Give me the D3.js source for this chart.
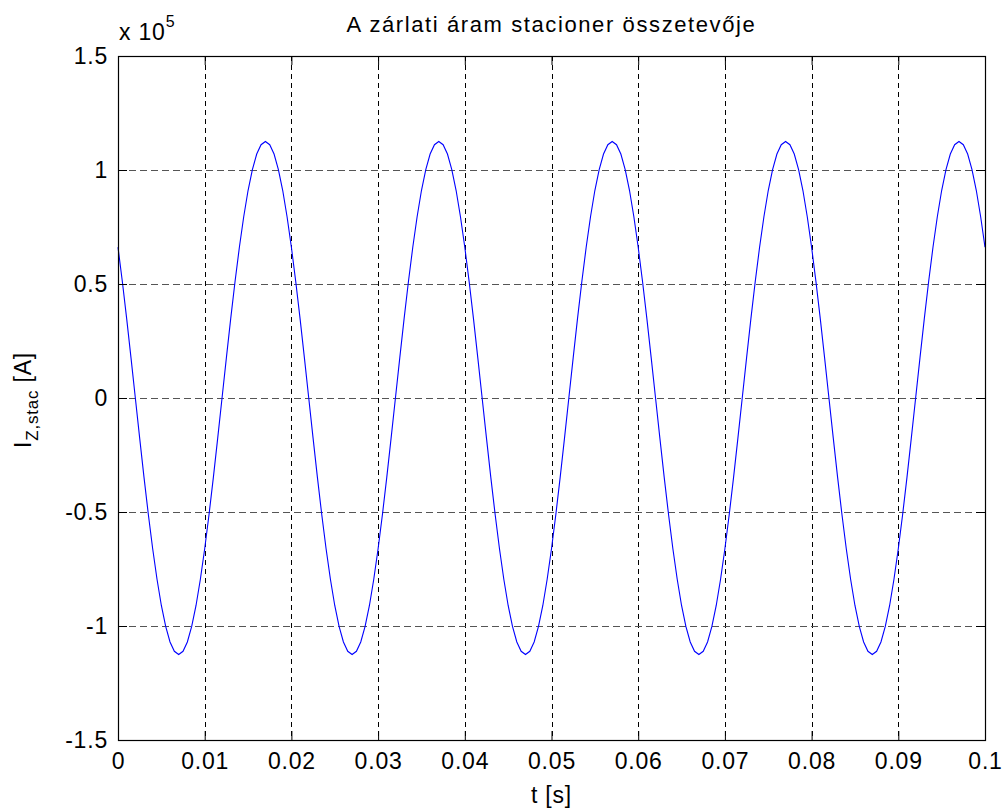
<!DOCTYPE html>
<html>
<head>
<meta charset="utf-8">
<script src="https://d3js.org/d3.v7.min.js"></script>
<style>
  body { margin: 0; background: #fff; }
  text { font-family: "Liberation Sans", Arial, Helvetica, sans-serif; fill: #000; }
</style>
</head>
<body>
<svg id="chart" width="1008" height="812"></svg>
<script>
// sample spacing of the trace, seconds
var sampleStep = 0.0005;

// I_Z,stac values, in units of 1e5 A
var current = [
  0.661, 0.511, 0.348, 0.176, 0, -0.176, -0.348, -0.511, -0.661, -0.795,
  -0.910, -1.002, -1.070, -1.111, -1.125, -1.111, -1.070, -1.002, -0.910, -0.795,
  -0.661, -0.511, -0.348, -0.176, 0, 0.176, 0.348, 0.511, 0.661, 0.795,
  0.910, 1.002, 1.070, 1.111, 1.125, 1.111, 1.070, 1.002, 0.910, 0.795,
  0.661, 0.511, 0.348, 0.176, 0, -0.176, -0.348, -0.511, -0.661, -0.795,
  -0.910, -1.002, -1.070, -1.111, -1.125, -1.111, -1.070, -1.002, -0.910, -0.795,
  -0.661, -0.511, -0.348, -0.176, 0, 0.176, 0.348, 0.511, 0.661, 0.795,
  0.910, 1.002, 1.070, 1.111, 1.125, 1.111, 1.070, 1.002, 0.910, 0.795,
  0.661, 0.511, 0.348, 0.176, 0, -0.176, -0.348, -0.511, -0.661, -0.795,
  -0.910, -1.002, -1.070, -1.111, -1.125, -1.111, -1.070, -1.002, -0.910, -0.795,
  -0.661, -0.511, -0.348, -0.176, 0, 0.176, 0.348, 0.511, 0.661, 0.795,
  0.910, 1.002, 1.070, 1.111, 1.125, 1.111, 1.070, 1.002, 0.910, 0.795,
  0.661, 0.511, 0.348, 0.176, 0, -0.176, -0.348, -0.511, -0.661, -0.795,
  -0.910, -1.002, -1.070, -1.111, -1.125, -1.111, -1.070, -1.002, -0.910, -0.795,
  -0.661, -0.511, -0.348, -0.176, 0, 0.176, 0.348, 0.511, 0.661, 0.795,
  0.910, 1.002, 1.070, 1.111, 1.125, 1.111, 1.070, 1.002, 0.910, 0.795,
  0.661, 0.511, 0.348, 0.176, 0, -0.176, -0.348, -0.511, -0.661, -0.795,
  -0.910, -1.002, -1.070, -1.111, -1.125, -1.111, -1.070, -1.002, -0.910, -0.795,
  -0.661, -0.511, -0.348, -0.176, 0, 0.176, 0.348, 0.511, 0.661, 0.795,
  0.910, 1.002, 1.070, 1.111, 1.125, 1.111, 1.070, 1.002, 0.910, 0.795,
  0.661
];

var xTicks = [0, 0.01, 0.02, 0.03, 0.04, 0.05, 0.06, 0.07, 0.08, 0.09, 0.1];
var xTickLabels = ["0", "0.01", "0.02", "0.03", "0.04", "0.05", "0.06", "0.07", "0.08", "0.09", "0.1"];
var yTicks = [-1.5, -1, -0.5, 0, 0.5, 1, 1.5];
var yTickLabels = ["-1.5", "-1", "-0.5", "0", "0.5", "1", "1.5"];

var titleText = "A zárlati áram stacioner összetevője";

var plotL = 118, plotR = 985, plotT = 56, plotB = 740;

var svg = d3.select("#chart");

var x = d3.scaleLinear().domain([0, 0.1]).range([plotL, plotR]);
var y = d3.scaleLinear().domain([-1.5, 1.5]).range([plotB, plotT]);

// grid
svg.append("g")
  .selectAll("line")
  .data(xTicks.slice(1, -1))
  .enter().append("line")
    .attr("x1", function(d) { return Math.round(x(d)) + 0.5; })
    .attr("x2", function(d) { return Math.round(x(d)) + 0.5; })
    .attr("y1", plotT)
    .attr("y2", plotB)
    .attr("stroke", "#000")
    .attr("stroke-dasharray", "5,4");

svg.append("g")
  .selectAll("line")
  .data(yTicks.slice(1, -1))
  .enter().append("line")
    .attr("x1", plotL)
    .attr("x2", plotR)
    .attr("y1", function(d) { return Math.round(y(d)) + 0.5; })
    .attr("y2", function(d) { return Math.round(y(d)) + 0.5; })
    .attr("stroke", "#555")
    .attr("stroke-width", 1.2)
    .attr("stroke-dasharray", "7,4");

// trace
var line = d3.line()
  .x(function(d, i) { return x(i * sampleStep); })
  .y(function(d) { return y(d); });

svg.append("path")
  .datum(current)
  .attr("d", line)
  .attr("fill", "none")
  .attr("stroke", "#0000ff")
  .attr("stroke-width", 1.1);

// axes (ticks point inward)
var fontSize = "23px";

var gx = svg.append("g")
  .attr("transform", "translate(0," + plotB + ")")
  .call(d3.axisBottom(x).tickValues(xTicks)
    .tickFormat(function(d, i) { return xTickLabels[i]; })
    .tickSize(-9).tickPadding(13));
gx.selectAll("text").style("font-size", fontSize).attr("letter-spacing", "0.8px");

var gy = svg.append("g")
  .attr("transform", "translate(" + plotL + ",0)")
  .call(d3.axisLeft(y).tickValues(yTicks)
    .tickFormat(function(d, i) { return yTickLabels[i]; })
    .tickSize(-9).tickPadding(10));
gy.selectAll("text").style("font-size", fontSize).attr("letter-spacing", "0.8px");

svg.append("g")
  .attr("transform", "translate(0," + plotT + ")")
  .call(d3.axisTop(x).tickValues(xTicks).tickFormat("").tickSize(-9));
svg.append("g")
  .attr("transform", "translate(" + plotR + ",0)")
  .call(d3.axisRight(y).tickValues(yTicks).tickFormat("").tickSize(-9));

svg.selectAll(".domain").remove();
svg.selectAll(".tick line").attr("stroke", "#000");

// frame
svg.append("rect")
  .attr("x", plotL + 0.5)
  .attr("y", plotT + 0.5)
  .attr("width", plotR - plotL)
  .attr("height", plotB - plotT)
  .attr("fill", "none")
  .attr("stroke", "#000")
  .attr("stroke-width", 1.2);

// title
svg.append("text")
  .attr("x", (plotL + plotR) / 2)
  .attr("y", 32)
  .attr("text-anchor", "middle")
  .attr("font-size", "22px")
  .attr("letter-spacing", "1.6px")
  .text(titleText);

// exponent
var ex = svg.append("text")
  .attr("x", 119)
  .attr("y", 40)
  .attr("font-size", "23px")
  .attr("letter-spacing", "0.8px");
ex.append("tspan").text("x 10");
ex.append("tspan").attr("dy", -13).attr("font-size", "16px").text("5");

// x label
svg.append("text")
  .attr("x", (plotL + plotR) / 2)
  .attr("y", 803)
  .attr("text-anchor", "middle")
  .attr("font-size", "23px")
  .attr("letter-spacing", "0.8px")
  .text("t [s]");

// y label
var yl = svg.append("text")
  .attr("transform", "rotate(-90)")
  .attr("x", -400)
  .attr("y", 31)
  .attr("text-anchor", "middle")
  .attr("font-size", "23px")
  .attr("letter-spacing", "0.8px");
yl.append("tspan").text("I");
yl.append("tspan").attr("dy", 7).attr("font-size", "17px").text("Z,stac");
yl.append("tspan").attr("dy", -7).text(" [A]");
</script>
</body>
</html>
